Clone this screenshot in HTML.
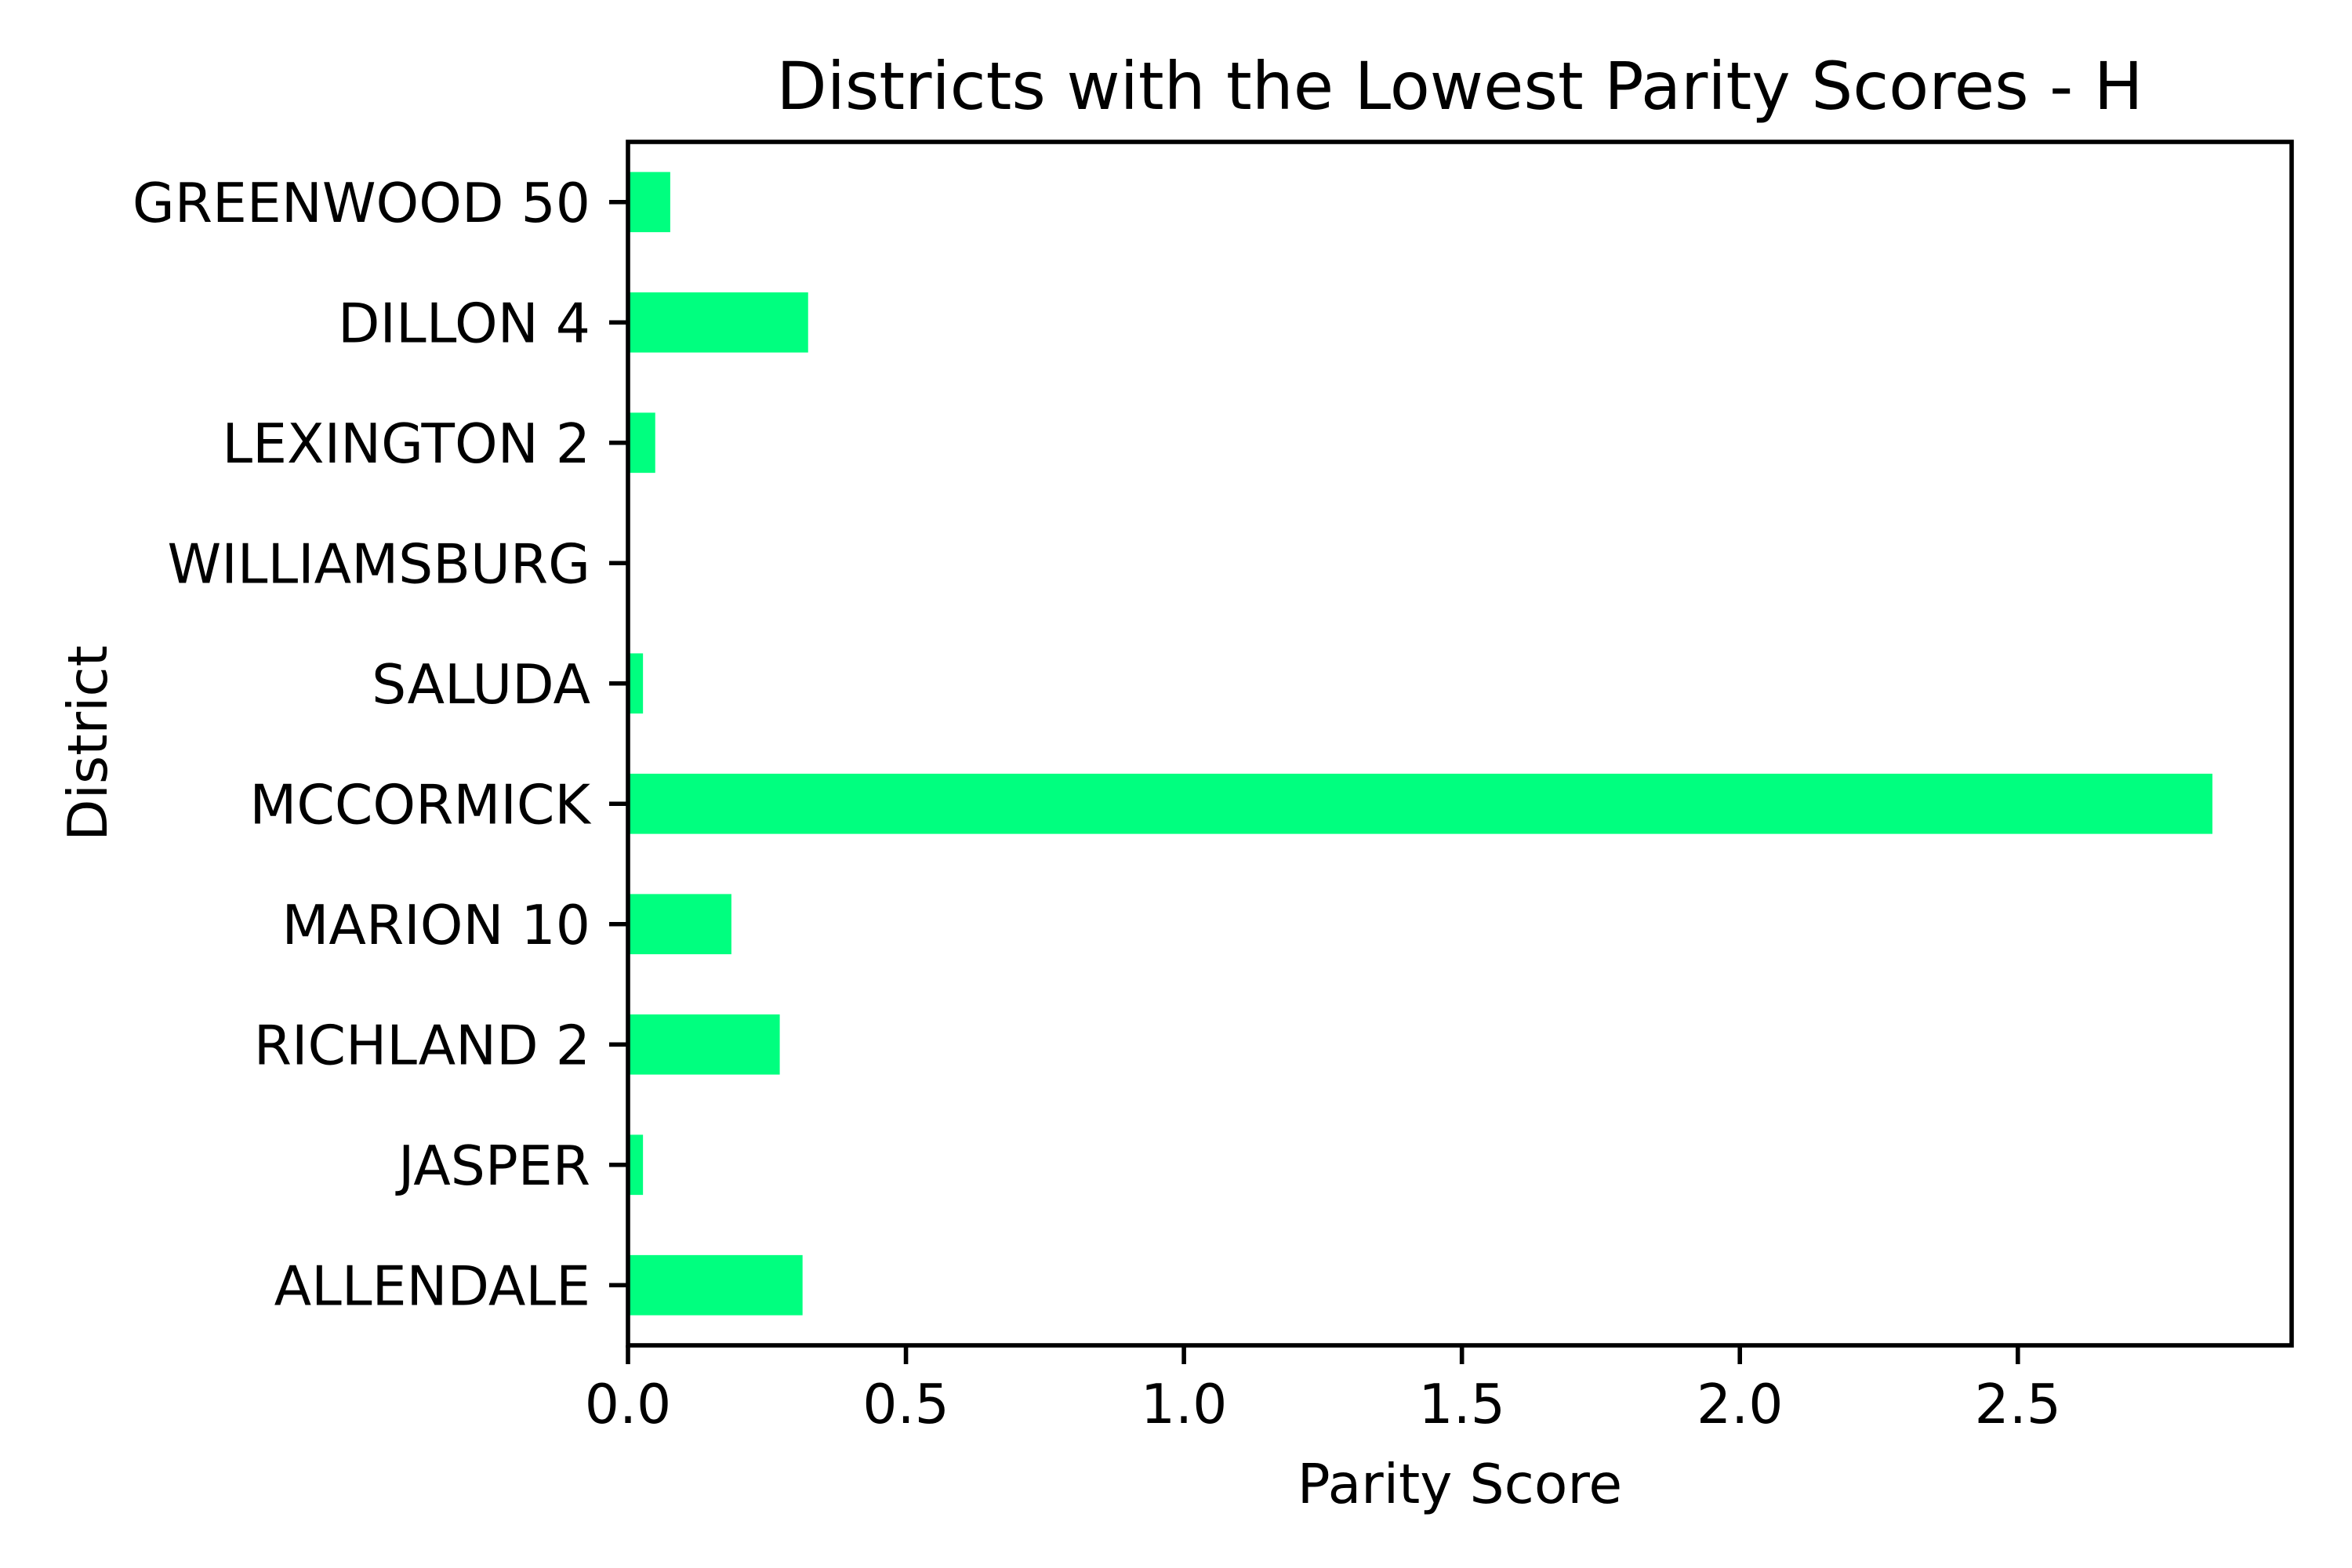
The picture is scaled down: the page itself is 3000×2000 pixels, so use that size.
<!DOCTYPE html>
<html><head><meta charset="utf-8"><style>
html,body{margin:0;padding:0;background:#fff;}
svg{display:block;font-family:"DejaVu Sans","Liberation Sans",sans-serif;}
</style></head><body>
<svg id="chart" width="3000" height="2000" viewBox="0 0 3000 2000">
<rect width="3000" height="2000" fill="#fff"/>
<text x="1862" y="139" font-size="83.5" text-anchor="middle">Districts with the Lowest Parity Scores - H</text>
<g id="bars"></g>
<g id="yticks"></g>
<g id="xticks"></g>
<rect x="801" y="181" width="2122" height="1535" fill="none" stroke="#000" stroke-width="5.6"/>
<text x="1862" y="1917" font-size="69.5" text-anchor="middle">Parity Score</text>
<text x="0" y="0" font-size="69.5" text-anchor="middle" transform="translate(136,948) rotate(-90)">District</text>
</svg>
<script>
const categories = ["GREENWOOD 50","DILLON 4","LEXINGTON 2","WILLIAMSBURG","SALUDA","MCCORMICK","MARION 10","RICHLAND 2","JASPER","ALLENDALE"];
const values = [0.076,0.324,0.049,0.0,0.027,2.85,0.186,0.273,0.027,0.314];
const xTicks = [0,0.5,1.0,1.5,2.0,2.5];
const xTickLabels = ["0.0","0.5","1.0","1.5","2.0","2.5"];

const NS = "http://www.w3.org/2000/svg";
const L = 801, R = 2923, T = 181, B = 1716;
const xMax = Math.max(...values) * 1.05;
function xs(v){ return L + (v / xMax) * (R - L); }
const band = (B - T) / categories.length;
function yc(i){ return T + band * (i + 0.5); }

const gb = document.getElementById('bars');
const gy = document.getElementById('yticks');
const gx = document.getElementById('xticks');
categories.forEach((c, i) => {
  const r = document.createElementNS(NS, 'rect');
  r.setAttribute('x', xs(0));
  r.setAttribute('y', yc(i) - band * 0.25);
  r.setAttribute('width', Math.max(0, xs(values[i]) - xs(0)));
  r.setAttribute('height', band * 0.5);
  r.setAttribute('fill', '#00ff7f');
  
  
  gb.appendChild(r);
  const tk = document.createElementNS(NS, 'line');
  tk.setAttribute('x1', L - 24); tk.setAttribute('x2', L);
  tk.setAttribute('y1', yc(i)); tk.setAttribute('y2', yc(i));
  tk.setAttribute('stroke', '#000'); tk.setAttribute('stroke-width', '5.6');
  
  
  gy.appendChild(tk);
  const t = document.createElementNS(NS, 'text');
  t.setAttribute('x', L - 48); t.setAttribute('y', yc(i) + 25);
  t.setAttribute('font-size', '69.5'); t.setAttribute('text-anchor', 'end');
  t.textContent = c;
  
  
  gy.appendChild(t);
});
xTicks.forEach((v, i) => {
  const tk = document.createElementNS(NS, 'line');
  tk.setAttribute('x1', xs(v)); tk.setAttribute('x2', xs(v));
  tk.setAttribute('y1', B); tk.setAttribute('y2', B + 24);
  tk.setAttribute('stroke', '#000'); tk.setAttribute('stroke-width', '5.6');
  
  
  gx.appendChild(tk);
  const t = document.createElementNS(NS, 'text');
  t.setAttribute('x', xs(v)); t.setAttribute('y', B + 48 + 51);
  t.setAttribute('font-size', '69.5'); t.setAttribute('text-anchor', 'middle');
  t.textContent = xTickLabels[i];
  
  
  gx.appendChild(t);
});
</script>
</body></html>
